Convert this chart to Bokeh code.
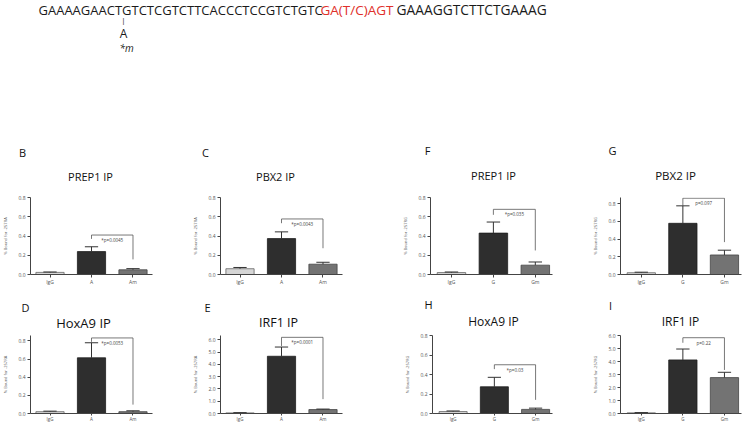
from bokeh.plotting import figure
from bokeh.layouts import column, row
from bokeh.models import Range1d, FixedTicker, NumeralTickFormatter
from bokeh.embed import file_html
from bokeh.resources import INLINE
from bokeh.core.properties import value

FONT = "Open Sans"

# ---------------- data ----------------
seq_black1 = "GAAAAGAACTGTCTCGTCTTCACCCTCCGTCTGTC"
seq_red = "GA(T/C)AGT"
seq_black2 = "GAAAGGTCTTCTGAAAG"

cats_A = ["IgG", "A", "Am"]
cats_G = ["IgG", "G", "Gm"]

ticks_small = [0.0, 0.2, 0.4, 0.6, 0.8]
ticks_big = [0.0, 1.0, 2.0, 3.0, 4.0, 5.0, 6.0]

# panel letters and titles (row 1: B C F G, row 2: D E H I)
letters_1 = ["B", "C", "F", "G"]
titles_1 = ["PREP1 IP", "PBX2 IP", "PREP1 IP", "PBX2 IP"]
letters_2 = ["D", "E", "H", "I"]
titles_2 = ["HoxA9 IP", "IRF1 IP", "HoxA9 IP", "IRF1 IP"]

# means and upper error (SEM) per panel
b_mean = [0.022, 0.238, 0.049]; b_err = [0.004, 0.050, 0.012]
c_mean = [0.060, 0.373, 0.107]; c_err = [0.013, 0.070, 0.020]
d_mean = [0.020, 0.614, 0.020]; d_err = [0.006, 0.166, 0.010]
e_mean = [0.05, 4.66, 0.32];    e_err = [0.02, 0.75, 0.04]
f_mean = [0.020, 0.430, 0.097]; f_err = [0.006, 0.115, 0.033]
g_mean = [0.020, 0.577, 0.220]; g_err = [0.006, 0.197, 0.054]
h_mean = [0.020, 0.274, 0.042]; h_err = [0.006, 0.097, 0.013]
i_mean = [0.05, 4.12, 2.76];    i_err = [0.02, 0.84, 0.41]

# significance brackets: [left foot, bracket level, right foot]
b_br = [0.37, 0.41, 0.157]; b_p = "*p=0.0045"
c_br = [0.533, 0.577, 0.273]; c_p = "*p=0.0043"
d_br = [0.79, 0.833, 0.098]; d_p = "*p=0.0053"
e_br = [5.5, 6.2, 1.17]; e_p = "*p=0.0001"
f_br = [0.62, 0.677, 0.25]; f_p = "*p=0.035"
g_br = [0.774, 0.86, 0.365]; g_p = "p=0.097"
h_br = [0.455, 0.5, 0.14]; h_p = "*p=0.03"
i_br = [5.44, 5.83, 3.35]; i_p = "p=0.22"

fills = ["#d6d6d6", "#2e2e2e", "#737373"]
outlines = ["#666666", "#1e1e1e", "#444444"]


def panel(cats, means, errs, br, ptext, yend, yticks, ylabel,
          w, h, left, right, top, bottom, xr):
    p = figure(width=w, height=h, output_backend="svg", toolbar_location=None,
               x_range=Range1d(*xr), y_range=Range1d(0, yend),
               min_border_left=left, min_border_right=right,
               min_border_top=top, min_border_bottom=bottom)
    p.outline_line_color = None
    p.grid.visible = False
    xs = list(range(len(cats)))
    p.vbar(x=xs, top=means, bottom=0, width=0.68, fill_color=fills,
           line_color=outlines, line_width=0.8)
    tops = [m + e for m, e in zip(means, errs)]
    p.segment(x0=xs, y0=means, x1=xs, y1=tops, line_color="#333333", line_width=1)
    p.segment(x0=[x - 0.16 for x in xs], y0=tops, x1=[x + 0.16 for x in xs],
              y1=tops, line_color="#333333", line_width=1)
    p.line(x=[xs[1], xs[1], xs[2], xs[2]], y=[br[0], br[1], br[1], br[2]],
           line_color="#555555", line_width=0.8)
    p.text(x=[(xs[1] + xs[2]) / 2], y=[br[1]], text=[ptext], text_align="center",
           text_baseline="top", y_offset=2, text_font_size="4.5px",
           text_color="#444444", text_font=value(FONT))
    p.yaxis.ticker = FixedTicker(ticks=yticks)
    p.yaxis.formatter = NumeralTickFormatter(format="0.0")
    p.xaxis.ticker = FixedTicker(ticks=xs)
    p.xaxis.major_label_overrides = {x: c for x, c in zip(xs, cats)}
    for ax in (p.xaxis, p.yaxis):
        ax.axis_line_color = "#444444"
        ax.axis_line_width = 1
        ax.major_tick_line_color = "#444444"
        ax.major_tick_out = 3
        ax.major_tick_in = 0
        ax.minor_tick_line_color = None
        ax.major_label_text_font_size = "5px"
        ax.major_label_text_font = FONT
        ax.major_label_text_color = "#555555"
        ax.major_label_standoff = 2
    p.xaxis.axis_label = None
    p.xaxis.axis_label_standoff = 0
    p.xaxis.axis_label_text_font_size = "1px"
    p.xaxis.major_label_standoff = 1
    p.yaxis.axis_label = ylabel
    p.yaxis.axis_label_text_font_size = "4px"
    p.yaxis.axis_label_text_font = FONT
    p.yaxis.axis_label_text_font_style = "normal"
    p.yaxis.axis_label_text_color = "#555555"
    p.yaxis.axis_label_standoff = 7
    return p


def header(y0, y1, letters, letter_xy, titles, title_xy, title_sizes):
    f = figure(width=745, height=y1 - y0, output_backend="svg", toolbar_location=None,
               x_range=Range1d(0, 745), y_range=Range1d(y1, y0),
               min_border_left=0, min_border_right=0, min_border_top=0,
               min_border_bottom=0)
    f.axis.visible = False
    f.grid.visible = False
    f.outline_line_color = None
    f.text(x=[xy[0] for xy in letter_xy], y=[xy[1] for xy in letter_xy], text=letters,
           text_align="center", text_baseline="middle", text_font=value(FONT),
           text_font_size="11px", text_color="#111111")
    f.text(x=[xy[0] for xy in title_xy], y=[xy[1] for xy in title_xy], text=titles,
           text_align="center", text_baseline="middle", text_font=value(FONT),
           text_font_size=title_sizes, text_color="#111111")
    return f


XL = (-0.47, 2.47)
XR = (-0.5, 2.41)
YA = "% Bound for -257RA"
YG = "% Bound for -257RG"

# row 1: figures span y 185..294
pB = panel(cats_A, b_mean, b_err, b_br, b_p, 0.8, ticks_small, YA, 190, 109, 30, 38, 10, 17, XL)
pC = panel(cats_A, c_mean, c_err, c_br, c_p, 0.8, ticks_small, YA, 190, 109, 27, 38, 12, 17, XL)
pF = panel(cats_G, f_mean, f_err, f_br, f_p, 0.8, ticks_small, YG, 185, 109, 50, 13, 7, 20, XR)
pG = panel(cats_G, g_mean, g_err, g_br, g_p, 0.868, ticks_small, YG, 180, 109, 55, 4, 0, 20, XR)
# row 2: figures span y 331..424
pD = panel(cats_A, d_mean, d_err, d_br, d_p, 0.86, ticks_small, YA, 190, 93, 29, 38, 0, 11, XL)
pE = panel(cats_A, e_mean, e_err, e_br, e_p, 6.35, ticks_big, YA, 190, 93, 27, 38, 1, 11, XL)
pH = panel(cats_G, h_mean, h_err, h_br, h_p, 0.8, ticks_small, YG, 185, 93, 52, 13, 4, 11, XR)
pI = panel(cats_G, i_mean, i_err, i_br, i_p, 6.0, ticks_big, YG, 180, 93, 55, 4, 4, 11, XR)
for p in (pD, pE, pH, pI):
    p.xaxis.major_tick_out = 2
    p.xaxis.major_label_standoff = 0
    p.xaxis.major_label_text_font_size = "4.5px"

h1 = header(140, 185, letters_1, [(22, 152), (205, 152), (427, 150), (612, 150)],
            titles_1, [(90, 176), (275, 176), (493, 175), (675, 175)],
            ["11px", "11px", "11px", "11.5px"])
h2 = header(294, 331, letters_2, [(25, 307), (207, 307), (428, 304), (610, 305)],
            titles_2, [(83, 322), (278, 322), (493, 321), (680, 321)],
            ["13px", "12.5px", "12px", "12px"])

# ---------------- sequence header (y 0..140) ----------------
top = figure(width=745, height=140, output_backend="svg", toolbar_location=None,
             x_range=Range1d(0, 745), y_range=Range1d(140, 0),
             min_border_left=0, min_border_right=0, min_border_top=0, min_border_bottom=0)
top.axis.visible = False
top.grid.visible = False
top.outline_line_color = None
top.text(x=[38], y=[9], text=[seq_black1], text_baseline="middle", text_align="left",
         text_font=value(FONT), text_font_size="13px", text_color="#1a1a1a")
top.text(x=[320], y=[9], text=[seq_red], text_baseline="middle", text_align="left",
         text_font=value(FONT), text_font_size="13.5px", text_color="#e0302a")
top.text(x=[396], y=[9], text=[seq_black2], text_baseline="middle", text_align="left",
         text_font=value(FONT), text_font_size="13.8px", text_color="#1a1a1a")
top.text(x=[123, 123], y=[19, 33], text=["|", "A"], text_baseline="middle",
         text_align="center", text_font=value(FONT), text_font_size=["8px", "12px"],
         text_color="#1a1a1a")
top.text(x=[126], y=[47], text=["*m"], text_baseline="middle", text_align="center",
         text_font=value(FONT), text_font_size="10px", text_font_style="italic",
         text_color="#1a1a1a")

layout = column(top, h1, row(pB, pC, pF, pG), h2, row(pD, pE, pH, pI))

open("out.html", "w").write(file_html(layout, INLINE))
